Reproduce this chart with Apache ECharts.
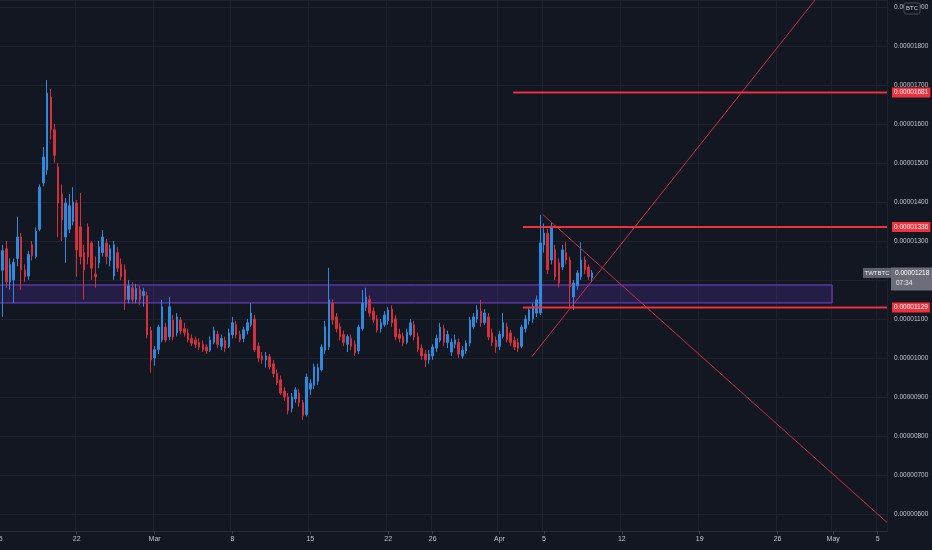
<!DOCTYPE html>
<html style="height: 100%">
<head>
<meta charset="utf-8">
<script src="https://cdn.jsdelivr.net/npm/echarts@6/dist/echarts.min.js"></script>
</head>
<body style="height: 100%; margin: 0; background: #131722">
<div id="chart" style="width: 932px; height: 550px"></div>
<script>
// 8h candles from 15 Feb, prices in satoshi (1e-8 BTC): [open, close, low, high]
var ohlc = [
  [1255,1235,1190,1285],[1225,1275,1105,1290],[1280,1195,1180,1300],[1195,1240,1175,1255],
  [1200,1245,1141,1255],[1255,1310,1235,1362],[1310,1226,1174,1320],[1225,1208,1195,1240],
  [1210,1265,1200,1275],[1290,1262,1250,1300],[1260,1325,1255,1335],[1330,1438,1325,1445],
  [1449,1515,1440,1541],[1482,1679,1470,1713],[1669,1585,1560,1690],[1585,1520,1500,1600],
  [1490,1397,1310,1500],[1420,1354,1300,1445],[1310,1397,1244,1410],[1330,1390,1320,1420],
  [1350,1400,1340,1438],[1397,1277,1208,1405],[1336,1260,1240,1423],[1270,1226,1149,1290],
  [1336,1259,1240,1345],[1295,1230,1200,1300],[1215,1208,1180,1260],[1244,1285,1230,1300],
  [1270,1310,1260,1328],[1295,1260,1240,1305],[1250,1280,1235,1290],[1210,1290,1200,1300],
  [1270,1230,1220,1285],[1240,1208,1200,1255],[1226,1149,1123,1240],[1150,1185,1140,1200],
  [1180,1150,1140,1195],[1150,1178,1140,1190],[1175,1150,1135,1185],[1160,1170,1131,1180],
  [1160,1060,1050,1170],[1070,995,962,1080],[1000,1021,980,1030],[1021,1079,1010,1085],
  [1046,1131,1040,1149],[1079,1046,1040,1090],[1054,1131,1046,1156],[1097,1054,1045,1110],
  [1064,1105,1055,1115],[1097,1070,1060,1105],[1075,1064,1055,1090],[1064,1046,1040,1075],
  [1050,1038,1030,1060],[1046,1035,1025,1055],[1040,1028,1020,1050],[1035,1021,1015,1045],
  [1028,1018,1010,1035],[1020,1046,1015,1055],[1040,1070,1035,1080],[1060,1035,1025,1070],
  [1030,1050,1020,1060],[1045,1025,1015,1055],[1030,1064,1025,1075],[1060,1090,1050,1105],
  [1085,1060,1050,1095],[1060,1046,1040,1070],[1050,1072,1040,1080],[1070,1090,1060,1100],
  [1085,1115,1080,1141],[1100,1021,1015,1110],[1030,1000,990,1040],[1005,995,985,1015],
  [995,1005,975,1015],[1003,977,970,1010],[985,960,950,995],[960,936,930,970],
  [944,910,905,955],[915,900,890,925],[900,865,855,910],[870,900,860,910],
  [895,918,885,925],[910,885,875,920],[885,852,841,892],[855,951,850,960],
  [920,935,905,945],[930,977,920,985],[940,975,930,985],[970,1028,965,1035],
  [1020,1080,1010,1095],[1028,1149,1020,1231],[1141,1097,1085,1150],[1105,1075,1065,1115],
  [1080,1054,1045,1090],[1060,1040,1030,1070],[1035,1055,1015,1060],[1050,1030,1020,1060],
  [1035,1013,1005,1045],[1018,1079,1010,1085],[1075,1141,1070,1174],[1130,1156,1120,1180],
  [1150,1115,1105,1160],[1120,1097,1090,1130],[1100,1072,1065,1110],[1075,1090,1065,1100],
  [1085,1110,1080,1120],[1095,1123,1085,1131],[1125,1090,1080,1135],[1100,1054,1045,1110],
  [1060,1050,1040,1075],[1055,1038,1030,1065],[1040,1065,1035,1075],[1060,1090,1055,1100],
  [1085,1054,1045,1095],[1055,1021,1015,1065],[1025,1005,995,1035],[1010,995,977,1020],
  [995,1010,985,1020],[1005,1028,995,1035],[1025,1050,1015,1060],[1045,1079,1040,1090],
  [1075,1040,1030,1085],[1040,1060,1025,1070],[1015,1040,1005,1050],[1035,1046,1025,1060],
  [1040,1010,1000,1050],[1005,1020,998,1030],[1018,1038,1010,1045],[1038,1097,1030,1105],
  [1080,1105,1075,1115],[1100,1123,1090,1135],[1120,1090,1080,1149],[1090,1115,1085,1125],
  [1105,1054,1045,1115],[1064,1040,1030,1075],[1045,1028,1013,1055],[1030,1060,1020,1070],
  [1055,1090,1050,1115],[1080,1046,1040,1090],[1064,1040,1030,1072],[1045,1028,1020,1055],
  [1040,1025,1015,1050],[1030,1079,1025,1085],[1075,1100,1065,1110],[1095,1123,1085,1130],
  [1100,1131,1090,1140],[1115,1149,1105,1160],[1115,1295,1110,1367],[1290,1320,1270,1345],
  [1320,1226,1215,1330],[1251,1336,1240,1346],[1277,1208,1200,1290],[1244,1192,1180,1255],
  [1233,1277,1225,1290],[1270,1251,1240,1297],[1251,1182,1131,1260],[1156,1192,1123,1200],
  [1185,1218,1175,1225],[1208,1251,1200,1297],[1251,1226,1215,1260],[1233,1208,1200,1240],
  [1205,1218,1195,1225]
];

// number of 8h slots on the time axis (data + empty future)
var slotCount = 240;
var tickIndex = [0, 21, 42, 63, 84, 105, 117, 135, 147, 168, 189, 210, 225, 237];
var tickText = ['15', '22', 'Mar', '8', '15', '22', '26', 'Apr', '5', '12', '19', '26', 'May', '5'];

// drawings: horizontal levels, trend lines, support zone (x in slot index)
var levelPrice = [1681, 1336, 1129];
var levelFrom = [138.7, 141.3, 141.3];
var trendUp = [[143.7, 1003], [220.1, 1918]];
var trendDown = [[146.75, 1367], [239.5, 578]];
var zoneX = [-0.5, 224.7];
var zoneY = [1141, 1187];

var lastPrice = 1218;
var priceMin = 556, priceMax = 1918;

var FONT = "'Liberation Sans', Arial, sans-serif";
var FS = 6.5;

function sat(v) {
  return (v / 1e8).toFixed(8);
}

var categories = [];
for (var i = 0; i < slotCount; i++) categories.push(i);

function isTick(index) {
  return tickIndex.indexOf(index) >= 0;
}

var series = [];
series.push({
  type: 'candlestick',
  xAxisIndex: 0,
  data: ohlc,
  barWidth: 2,
  silent: true,
  itemStyle: {
    color: '#2f89dc', color0: '#d0313d',
    borderColor: '#2f89dc', borderColor0: '#d0313d',
    borderWidth: 1
  }
});

series.push({
  type: 'line',
  xAxisIndex: 1,
  data: trendDown,
  symbol: 'none',
  silent: true,
  z: 3,
  lineStyle: { color: '#c92c50', width: 1 },
  markArea: {
    silent: true,
    itemStyle: { color: 'rgba(92, 52, 190, 0.24)', borderColor: '#7a42dc', borderWidth: 1 },
    data: [[{ coord: [zoneX[0], zoneY[1]] }, { coord: [zoneX[1], zoneY[0]] }]]
  }
});

series.push({
  type: 'line',
  xAxisIndex: 1,
  data: trendUp,
  symbol: 'none',
  silent: true,
  z: 3,
  lineStyle: { color: '#c92c50', width: 1 }
});

for (var j = 0; j < levelPrice.length; j++) {
  series.push({
    type: 'line',
    xAxisIndex: 1,
    data: [[levelFrom[j], levelPrice[j]], [slotCount - 0.5, levelPrice[j]]],
    symbol: 'none',
    silent: true,
    z: 4,
    lineStyle: { color: '#f0313c', width: 2 },
    endLabel: {
      show: true,
      formatter: sat(levelPrice[j]),
      distance: 5,
      color: '#ffffff',
      backgroundColor: '#f0313c',
      padding: [2, 2, 1, 2],
      fontSize: FS,
      fontFamily: FONT
    }
  });
}

var chart = echarts.init(document.getElementById('chart'));
chart.setOption({
  animation: false,
  backgroundColor: '#131722',
  grid: { left: -3, right: 45, top: 0, bottom: 19, containLabel: false, outerBoundsMode: 'none' },
  xAxis: [{
    type: 'category',
    data: categories,
    boundaryGap: true,
    axisLine: { show: true, lineStyle: { color: '#2a2e39' } },
    axisTick: { show: true, alignWithLabel: true, interval: isTick, length: 3, lineStyle: { color: '#3a3e4a' } },
    splitLine: { show: true, interval: isTick, lineStyle: { color: '#1f2330', width: 1 } },
    axisLabel: {
      interval: isTick,
      margin: 5,
      color: '#c3c6ce',
      fontSize: FS + 0.5,
      fontFamily: FONT,
      formatter: function (value, index) {
        var k = tickIndex.indexOf(Number(value));
        return k >= 0 ? tickText[k] : '';
      }
    }
  }, {
    type: 'value',
    show: false,
    min: -0.5,
    max: slotCount - 0.5
  }],
  yAxis: {
    type: 'value',
    position: 'right',
    min: priceMin,
    max: priceMax,
    splitNumber: 14,
    minInterval: 100,
    maxInterval: 100,
    scale: true,
    axisLine: { show: true, lineStyle: { color: '#2a2e39' } },
    axisTick: { show: false },
    splitLine: { show: true, lineStyle: { color: '#1f2330', width: 1 } },
    axisLabel: {
      margin: 7,
      color: '#c3c6ce',
      fontSize: FS,
      fontFamily: FONT,
      showMinLabel: false,
      showMaxLabel: false,
      formatter: function (v) { return sat(v); }
    }
  },
  series: series
});

// last price tag and currency badge
var yLast = chart.convertToPixel({ yAxisIndex: 0 }, lastPrice);
chart.setOption({
  graphic: [
    { type: 'rect', z: 100, shape: { x: 863, y: yLast - 5, width: 28, height: 10 }, style: { fill: '#5e616c' } },
    { type: 'text', z: 101, x: 877, y: yLast, style: { text: 'TWTBTC', fill: '#eceef2', fontSize: 6, fontFamily: FONT, align: 'center', verticalAlign: 'middle' } },
    { type: 'rect', z: 100, shape: { x: 891, y: yLast - 5.5, width: 41, height: 23 }, style: { fill: '#6b6e79' } },
    { type: 'text', z: 101, x: 895, y: yLast, style: { text: sat(lastPrice), fill: '#ffffff', fontSize: FS, fontFamily: FONT, verticalAlign: 'middle' } },
    { type: 'text', z: 101, x: 896, y: yLast + 10, style: { text: '07:34', fill: '#eceef2', fontSize: FS, fontFamily: FONT, verticalAlign: 'middle' } },
    { type: 'rect', z: 100, shape: { x: 904, y: 3, width: 16, height: 11, r: 2 }, style: { fill: '#131722', stroke: '#4a4e5a', lineWidth: 1 } },
    { type: 'text', z: 101, x: 912, y: 8.5, style: { text: 'BTC', fill: '#d1d4dc', fontSize: 6, fontFamily: FONT, align: 'center', verticalAlign: 'middle' } }
  ]
});
</script>
</body>
</html>
